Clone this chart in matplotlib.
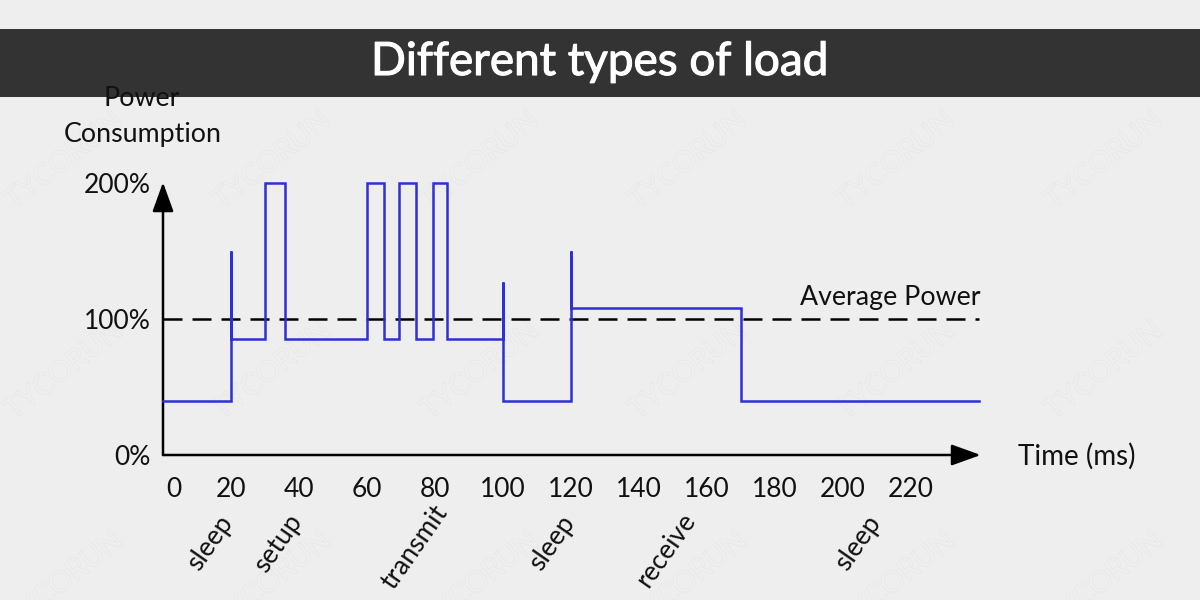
import matplotlib.pyplot as plt
import matplotlib.patheffects as pe
from matplotlib.transforms import ScaledTranslation

plt.rcParams['font.family'] = ['Lato', 'DejaVu Sans']

# power trace
time_ms = [0, 20, 20, 20, 30, 30, 36, 36, 60, 60, 65, 65, 69.5, 69.5, 74.5, 74.5,
           79.5, 79.5, 83.5, 83.5, 100, 100, 100, 120, 120, 120, 170, 170, 240]
power = [40, 40, 150, 85, 85, 200, 200, 85, 85, 200, 200, 85, 85, 200, 200, 85,
         85, 200, 200, 85, 85, 127, 40, 40, 150, 108, 108, 40, 40]

average_power = 100
x_ticks = [0, 20, 40, 60, 80, 100, 120, 140, 160, 180, 200, 220]
y_ticks = [0, 100, 200]
y_labels = ['0%', '100%', '200%']

phase_names = ['sleep', 'setup', 'transmit', 'sleep', 'receive', 'sleep']
phase_pos = [14, 34, 74, 114.5, 148, 204.5]
phase_y = [-65, -65, -68, -65, -70, -65]

BG = '#eeeeee'
BLUE = '#2f2fd8'
TEXT = '#111111'
W, H = 1200, 600
X0, Y0 = 163, 455      # pixel of the origin
SX, SY = 3.4, 1.36     # pixels per ms, per %

fig = plt.figure(figsize=(12, 6), dpi=100, facecolor=BG)
ax = fig.add_axes([0, 0, 1, 1], facecolor=BG)
ax.set_xlim(-X0 / SX, (W - X0) / SX)
ax.set_ylim(-(H - Y0) / SY, Y0 / SY)

# watermark grid
for wx in [64, 272, 480, 688, 896, 1104]:
    for wy in [161, 371, 581]:
        ax.text(wx / W, 1 - wy / H, 'TYCORUN', transform=ax.transAxes, fontsize=21,
                rotation=38, ha='center', va='center', color=BG, zorder=1,
                path_effects=[pe.withStroke(linewidth=1.0, foreground='#e7e7e7')])

# axes lines and arrows
for side in ['top', 'right', 'left', 'bottom']:
    ax.spines[side].set_visible(False)
ax.spines['bottom'].set_position(('data', 0))
ax.spines['left'].set_position(('data', 0))
arrow = dict(arrowstyle='-|>,head_length=1.8,head_width=0.65', color='black', lw=1.8,
             shrinkA=0, shrinkB=0, mutation_scale=10)
ax.annotate('', xy=(240.5, 0), xytext=(0, 0), arrowprops=arrow, zorder=3)
ax.annotate('', xy=(0, 200.5), xytext=(0, 0), arrowprops=arrow, zorder=3)

ax.set_xticks(x_ticks)
ax.set_yticks(y_ticks)
ax.set_yticklabels(y_labels)
ax.tick_params(axis='x', length=0, pad=16, labelsize=19, labelcolor=TEXT)
ax.tick_params(axis='y', length=0, pad=9, labelsize=19, labelcolor=TEXT)
first = ax.get_xticklabels()[0]
first.set_transform(first.get_transform() + ScaledTranslation(11 / 100, 0, fig.dpi_scale_trans))

# average and measured power
ax.plot([0, 240], [average_power, average_power], color='black', lw=1.8,
        dashes=(7.6, 4.0), dash_capstyle='butt', zorder=4)
ax.plot(time_ms, power, color=BLUE, lw=1.8, solid_joinstyle='miter', zorder=5)

ax.text(240.5, 116, 'Average Power', fontsize=19.3, color=TEXT, ha='right', va='center')
ax.text(251.5, -1, 'Time (ms)', fontsize=20, color=TEXT, ha='left', va='center')

for name, xp, yp in zip(phase_names, phase_pos, phase_y):
    ax.text(xp, yp, name, fontsize=19, color=TEXT, rotation=55, ha='center', va='center',
            rotation_mode='anchor')

# title band
ax.axhspan(Y0 / SY - 97 / SY, Y0 / SY - 29 / SY, color='#333333', lw=0, zorder=6)
ax.text(600 / W, 1 - 62 / H, 'Different types of load', transform=ax.transAxes, fontsize=33,
        color='white', ha='center', va='center', zorder=7,
        path_effects=[pe.withStroke(linewidth=0.8, foreground='white')])

ax.text(142 / W, 1 - 99 / H, 'Power', transform=ax.transAxes, fontsize=19.3, color=TEXT,
        ha='center', va='center', zorder=8)
ax.text(142.5 / W, 1 - 134 / H, 'Consumption', transform=ax.transAxes, fontsize=19.3, color=TEXT,
        ha='center', va='center', zorder=8)

fig.savefig('out.png', dpi=100, facecolor=BG)
